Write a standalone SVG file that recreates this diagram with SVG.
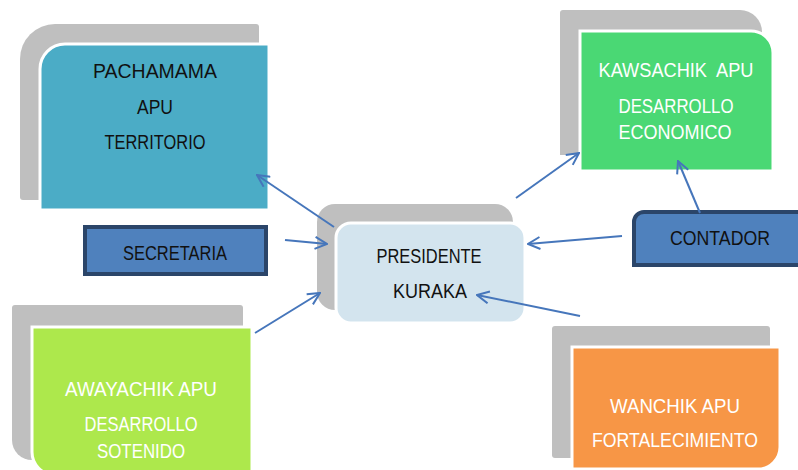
<svg xmlns="http://www.w3.org/2000/svg" width="798" height="470" viewBox="0 0 798 470">
<style>
.back{fill:#BFBFBF}
.face{stroke:#fff;stroke-width:3}
.box{fill:#4F81BD;stroke:#2B4569;stroke-width:4}
.t{font-family:"Liberation Sans",Arial,sans-serif;font-size:20px;text-anchor:middle}
.dk{fill:#111}
.wh{fill:#fff}
.conn line{stroke:#4676BB;stroke-width:2;fill:none}
</style>
<defs>
<marker id="arr" viewBox="0 0 14 14" refX="13" refY="7" markerWidth="14" markerHeight="14" markerUnits="userSpaceOnUse" orient="auto">
<path d="M1,1 L13,7 L1,13" fill="none" stroke="#4676BB" stroke-width="2"/>
</marker>
</defs>
<rect width="798" height="470" fill="#fff"/>

<g id="pachamama">
<path class="back" d="M20,59 A35,35 0 0 1 55,24 H256 Q259,24 259,27 V200 H23 Q20,200 20,197 Z"/>
<path class="face" fill="#4BACC6" d="M40,69 A25,25 0 0 1 65,44 H269 V210 H40 Z"/>
<text class="t dk" x="155" y="78" textLength="124" lengthAdjust="spacingAndGlyphs">PACHAMAMA</text>
<text class="t dk" x="155" y="114" textLength="36" lengthAdjust="spacingAndGlyphs">APU</text>
<text class="t dk" x="155" y="149" textLength="101" lengthAdjust="spacingAndGlyphs">TERRITORIO</text>
</g>

<g id="kawsachik">
<path class="back" d="M563,10 H740 A22,22 0 0 1 762,32 V155 H560 V13 Q560,10 563,10 Z"/>
<path class="face" fill="#4AD874" d="M580,31 H751 A22,22 0 0 1 773,53 V171 H580 Z"/>
<text class="t wh" x="676" y="77" xml:space="preserve" textLength="155" lengthAdjust="spacingAndGlyphs">KAWSACHIK  APU</text>
<text class="t wh" x="676" y="113" textLength="115" lengthAdjust="spacingAndGlyphs">DESARROLLO</text>
<text class="t wh" x="675" y="139" textLength="113" lengthAdjust="spacingAndGlyphs">ECONOMICO</text>
</g>

<g id="contador">
<path class="box" d="M644,212 H802 V265 H634 V222 A10,10 0 0 1 644,212 Z"/>
<text class="t dk" x="720" y="245" textLength="100" lengthAdjust="spacingAndGlyphs">CONTADOR</text>
</g>

<g id="secretaria">
<rect class="box" x="85" y="227" width="181" height="47"/>
<text class="t dk" x="175" y="260" textLength="104" lengthAdjust="spacingAndGlyphs">SECRETARIA</text>
</g>

<g id="presidente">
<path class="back" d="M335,204 H495 A18,18 0 0 1 513,222 V310 H335 A18,18 0 0 1 317,292 V222 A18,18 0 0 1 335,204 Z"/>
<rect class="face" x="336" y="223" width="189" height="100" rx="15" fill="#D3E4EE"/>
<text class="t dk" x="429" y="263" textLength="105" lengthAdjust="spacingAndGlyphs">PRESIDENTE</text>
<text class="t dk" x="430" y="298" textLength="74" lengthAdjust="spacingAndGlyphs">KURAKA</text>
</g>

<g id="awayachik">
<path class="back" d="M15,305 H240 Q243,305 243,308 V460 H32 A20,20 0 0 1 12,440 V308 Q12,305 15,305 Z"/>
<path class="face" fill="#ADE84C" d="M32,327 H252 V475 H55 A23,23 0 0 1 32,452 Z"/>
<text class="t wh" x="141" y="396" textLength="152" lengthAdjust="spacingAndGlyphs">AWAYACHIK APU</text>
<text class="t wh" x="141" y="431" textLength="113" lengthAdjust="spacingAndGlyphs">DESARROLLO</text>
<text class="t wh" x="141" y="458" textLength="88" lengthAdjust="spacingAndGlyphs">SOTENIDO</text>
</g>

<g id="wanchik">
<path class="back" d="M555,326 H767 Q770,326 770,329 V458 H555 Q552,458 552,455 V329 Q552,326 555,326 Z"/>
<path class="face" fill="#F79646" d="M572,347 H780 V447 A22,22 0 0 1 758,469 H572 Z"/>
<text class="t wh" x="675" y="413" textLength="130" lengthAdjust="spacingAndGlyphs">WANCHIK APU</text>
<text class="t wh" x="675" y="447" textLength="166" lengthAdjust="spacingAndGlyphs">FORTALECIMIENTO</text>
</g>

<g id="connectors" class="conn">
<line x1="334" y1="227" x2="257" y2="175" marker-end="url(#arr)"/>
<line x1="285" y1="240" x2="327" y2="244" marker-end="url(#arr)"/>
<line x1="255" y1="333" x2="320" y2="293" marker-end="url(#arr)"/>
<line x1="516" y1="198" x2="579" y2="153" marker-end="url(#arr)"/>
<line x1="622" y1="236" x2="528" y2="244" marker-end="url(#arr)"/>
<line x1="700" y1="213" x2="678" y2="161" marker-end="url(#arr)"/>
<line x1="580" y1="316" x2="477" y2="295" marker-end="url(#arr)"/>
</g>
</svg>
